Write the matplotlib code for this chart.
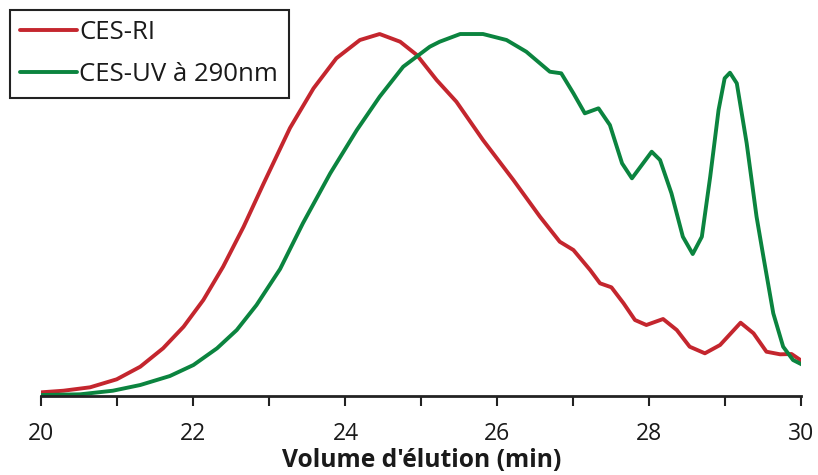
import numpy as np
import matplotlib
matplotlib.use("Agg")
import matplotlib.pyplot as plt
from matplotlib.ticker import MultipleLocator

# elution volume (min) and detector signal (arbitrary units)
ri_x = [20.00, 20.29, 20.64, 20.99, 21.30, 21.60, 21.87, 22.13, 22.39, 22.66,
        22.92, 23.27, 23.58, 23.88, 24.19, 24.45, 24.72, 24.94, 25.20,
        25.46, 25.81, 26.21, 26.56, 26.82, 27.00, 27.22, 27.35, 27.50, 27.66,
        27.81, 27.96, 28.18, 28.36, 28.53, 28.73, 28.93, 29.20, 29.37, 29.54,
        29.72, 29.87, 30.02]
ri_y = [3.7, 5.3, 8.7, 16.7, 29.3, 47.7, 69.3, 96, 129.3, 169.3,
        212, 268, 307.7, 337.7, 356, 362, 354.3, 341, 316,
        294.3, 256, 216, 179.3, 154.3, 146, 126, 112.7, 108.7, 92.7,
        76, 71, 77, 66, 49.3, 42.7, 51, 73.3, 62.7, 44.3,
        41.7, 42, 34.3]

uv_x = [20.00, 20.51, 20.94, 21.30, 21.69, 22.00, 22.31, 22.57, 22.83, 23.14,
        23.44, 23.80, 24.15, 24.45, 24.76, 25.11, 25.24, 25.51, 25.81, 26.12,
        26.38, 26.69, 26.84, 27.00, 27.15, 27.33, 27.48, 27.64, 27.77, 27.90,
        28.03, 28.14, 28.29, 28.44, 28.57, 28.69, 28.80, 28.91, 28.99, 29.06,
        29.15, 29.28, 29.41, 29.50, 29.63, 29.76, 29.89, 30.02]
uv_y = [1, 1.7, 5.3, 11, 20, 31, 47.7, 66, 91, 127,
        172.7, 222.7, 266, 299.3, 329.3, 349.3, 354.3, 362, 362, 356,
        344.3, 324.3, 322.7, 302.7, 282.7, 287.7, 271, 232.7, 217.7, 231,
        244.3, 236, 202.7, 159.3, 142, 159.3, 219.3, 286, 317.7, 323.3,
        312.7, 252.7, 179.3, 139.3, 82.7, 49.3, 36, 31]

labels = ["CES-RI", "CES-UV à 290nm"]
colors = ["#C4262E", "#0B843F"]

plt.rcParams['font.family'] = ['Open Sans', 'DejaVu Sans']

fig = plt.figure(figsize=(8.18, 4.75), dpi=100)
ax = fig.add_axes([0.0507, 0.1663, 0.929, 0.8126])

ax.plot(ri_x, ri_y, color=colors[0], lw=2.8, label=labels[0],
        solid_capstyle='round', solid_joinstyle='round')
ax.plot(uv_x, uv_y, color=colors[1], lw=2.8, label=labels[1],
        solid_capstyle='round', solid_joinstyle='round')

ax.set_xlim(20, 30)
ax.set_ylim(0, 386)
ax.xaxis.set_major_locator(MultipleLocator(2))
ax.xaxis.set_minor_locator(MultipleLocator(1))
ax.tick_params(axis='x', which='both', direction='out', length=7, width=1.5,
               color='#222222', labelsize=16.5, pad=12, labelcolor='#1a1a1a')
ax.set_yticks([])
for s in ['left', 'right', 'top']:
    ax.spines[s].set_visible(False)
ax.spines['bottom'].set_linewidth(2)
ax.spines['bottom'].set_color('#222222')
ax.set_xlabel("Volume d'élution (min)", fontsize=17.7, fontweight='bold',
              labelpad=1, color='#1a1a1a')

leg = ax.legend(loc='upper left', bbox_to_anchor=(10 / 818, 1 - 10 / 475),
                bbox_transform=fig.transFigure, fontsize=18.5, frameon=True,
                fancybox=False, edgecolor='#222222', framealpha=1,
                handlelength=2.2, handletextpad=0.1, labelspacing=0.66,
                borderpad=0.4, borderaxespad=0)
leg.get_frame().set_linewidth(1.5)
for t in leg.get_texts():
    t.set_color('#1a1a1a')

fig.savefig("out.png", dpi=100)
